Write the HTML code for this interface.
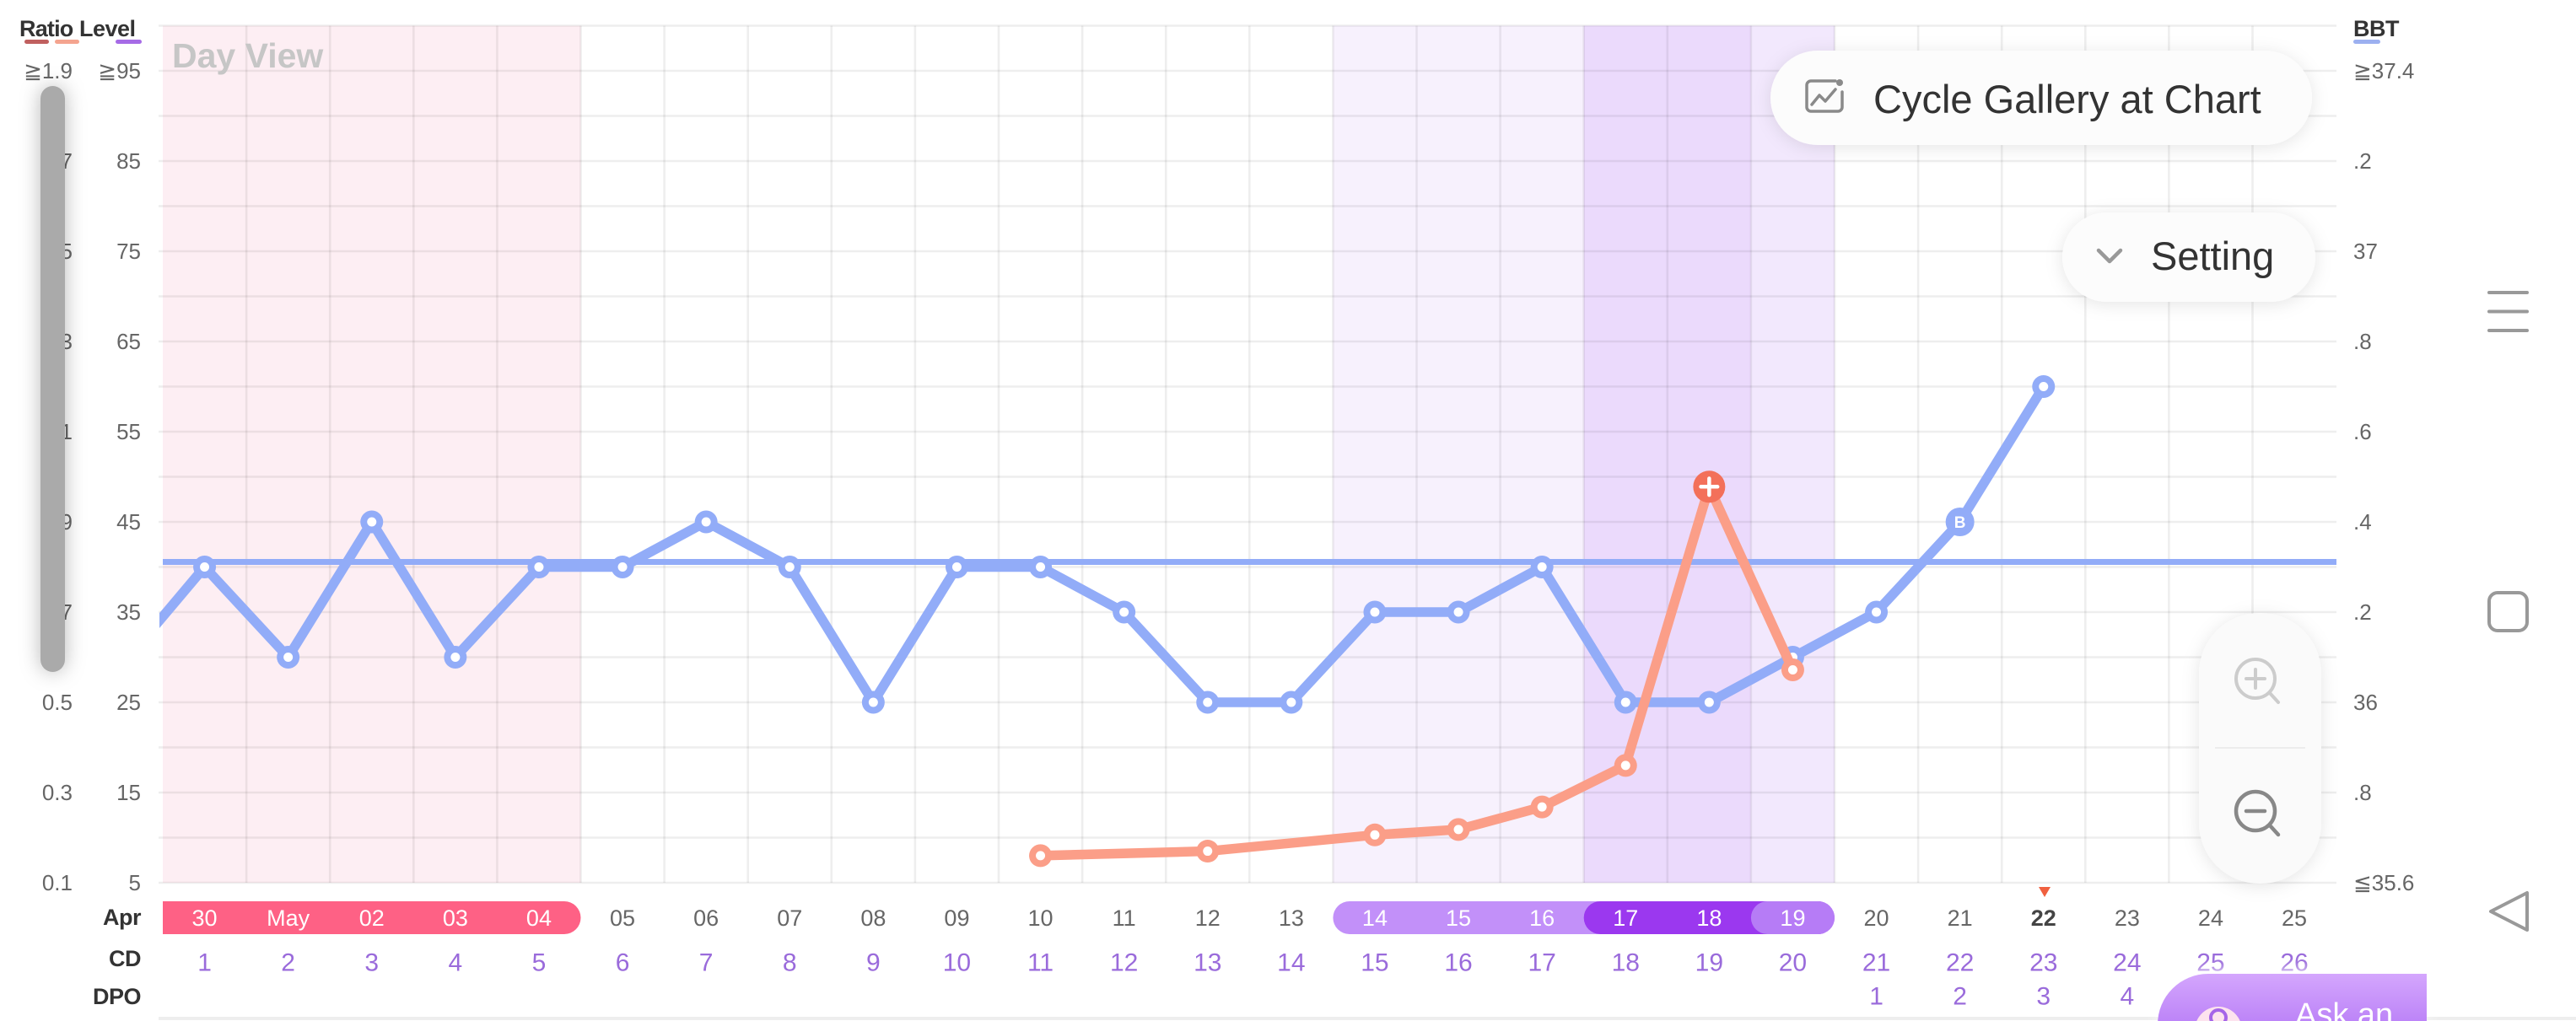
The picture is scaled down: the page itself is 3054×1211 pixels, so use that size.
<!DOCTYPE html>
<html><head><meta charset="utf-8"><style>
html,body{margin:0;padding:0;background:#fff;}
body{width:3054px;height:1211px;overflow:hidden;}
svg{display:block;font-family:"Liberation Sans","DejaVu Sans",sans-serif;}
</style></head><body>
<svg width="3054" height="1211" viewBox="0 0 3054 1211" xmlns="http://www.w3.org/2000/svg">
<defs>
<filter id="sh" x="-20%" y="-40%" width="140%" height="180%"><feDropShadow dx="0" dy="3" stdDeviation="10" flood-color="#000" flood-opacity="0.10"/></filter>
<filter id="sh2" x="-200%" y="-10%" width="500%" height="120%"><feDropShadow dx="0" dy="0" stdDeviation="12" flood-color="#000" flood-opacity="0.28"/></filter>
<filter id="glow" x="-30%" y="-60%" width="160%" height="220%"><feDropShadow dx="0" dy="-4" stdDeviation="8" flood-color="#fff" flood-opacity="0.9"/></filter>
<clipPath id="plot"><rect x="189" y="20" width="2581" height="1040"/></clipPath>
<linearGradient id="ask" x1="0" y1="0" x2="0" y2="1"><stop offset="0" stop-color="#d4a6fd"/><stop offset="1" stop-color="#bb82f7"/></linearGradient>
</defs>

<!-- shaded regions -->
<rect x="193" y="30.5" width="495.5" height="1016.5" fill="#fdeef3"/>
<rect x="1580.4" y="30.5" width="297.3" height="1016.5" fill="#f7f1fd"/>
<rect x="1877.7" y="30.5" width="198.2" height="1016.5" fill="#ebdafc"/>
<rect x="2075.9" y="30.5" width="99.1" height="1016.5" fill="#f2e8fd"/>

<!-- grid -->
<g stroke="#000" stroke-opacity="0.065" stroke-width="2.6">
<line x1="188" y1="30.5" x2="2770" y2="30.5"/><line x1="188" y1="84" x2="2770" y2="84"/><line x1="188" y1="137.5" x2="2770" y2="137.5"/><line x1="188" y1="191" x2="2770" y2="191"/><line x1="188" y1="244.5" x2="2770" y2="244.5"/><line x1="188" y1="298" x2="2770" y2="298"/><line x1="188" y1="351.5" x2="2770" y2="351.5"/><line x1="188" y1="405" x2="2770" y2="405"/><line x1="188" y1="458.5" x2="2770" y2="458.5"/><line x1="188" y1="512" x2="2770" y2="512"/><line x1="188" y1="565.5" x2="2770" y2="565.5"/><line x1="188" y1="619" x2="2770" y2="619"/><line x1="188" y1="672.5" x2="2770" y2="672.5"/><line x1="188" y1="726" x2="2770" y2="726"/><line x1="188" y1="779.5" x2="2770" y2="779.5"/><line x1="188" y1="833" x2="2770" y2="833"/><line x1="188" y1="886.5" x2="2770" y2="886.5"/><line x1="188" y1="940" x2="2770" y2="940"/><line x1="188" y1="993.5" x2="2770" y2="993.5"/><line x1="188" y1="1047" x2="2770" y2="1047"/>
<line x1="292.1" y1="30.5" x2="292.1" y2="1047"/><line x1="391.2" y1="30.5" x2="391.2" y2="1047"/><line x1="490.3" y1="30.5" x2="490.3" y2="1047"/><line x1="589.4" y1="30.5" x2="589.4" y2="1047"/><line x1="688.5" y1="30.5" x2="688.5" y2="1047"/><line x1="787.6" y1="30.5" x2="787.6" y2="1047"/><line x1="886.7" y1="30.5" x2="886.7" y2="1047"/><line x1="985.8" y1="30.5" x2="985.8" y2="1047"/><line x1="1084.9" y1="30.5" x2="1084.9" y2="1047"/><line x1="1184" y1="30.5" x2="1184" y2="1047"/><line x1="1283.1" y1="30.5" x2="1283.1" y2="1047"/><line x1="1382.2" y1="30.5" x2="1382.2" y2="1047"/><line x1="1481.3" y1="30.5" x2="1481.3" y2="1047"/><line x1="1580.4" y1="30.5" x2="1580.4" y2="1047"/><line x1="1679.5" y1="30.5" x2="1679.5" y2="1047"/><line x1="1778.6" y1="30.5" x2="1778.6" y2="1047"/><line x1="1877.7" y1="30.5" x2="1877.7" y2="1047"/><line x1="1976.8" y1="30.5" x2="1976.8" y2="1047"/><line x1="2075.9" y1="30.5" x2="2075.9" y2="1047"/><line x1="2175" y1="30.5" x2="2175" y2="1047"/><line x1="2274.1" y1="30.5" x2="2274.1" y2="1047"/><line x1="2373.2" y1="30.5" x2="2373.2" y2="1047"/><line x1="2472.3" y1="30.5" x2="2472.3" y2="1047"/><line x1="2571.4" y1="30.5" x2="2571.4" y2="1047"/><line x1="2670.5" y1="30.5" x2="2670.5" y2="1047"/>
</g>

<!-- bottom separator -->
<line x1="188" y1="1208" x2="3054" y2="1208" stroke="#eeeeee" stroke-width="4"/>

<!-- Day View -->
<text x="204" y="80" font-size="41" font-weight="bold" fill="#c6c6c6">Day View</text>

<!-- coverline -->
<line x1="193" y1="666.5" x2="2770" y2="666.5" stroke="#92acf8" stroke-width="7"/>

<!-- BBT series -->
<g clip-path="url(#plot)">
<polyline fill="none" stroke="#92acf8" stroke-width="11.5" stroke-linejoin="round" stroke-linecap="round" points="143.45,790.2 242.55,672.5 341.65,779.5 440.75,619 539.85,779.5 638.95,672.5 738.05,672.5 837.15,619 936.25,672.5 1035.35,833 1134.45,672.5 1233.55,672.5 1332.65,726 1431.75,833 1530.85,833 1629.95,726 1729.05,726 1828.15,672.5 1927.25,833 2026.35,833 2125.45,779.5 2224.55,726 2323.65,619 2422.75,458.5"/>
</g>
<g fill="#92acf8">
<circle cx="242.55" cy="672.5" r="13.5"/><circle cx="341.65" cy="779.5" r="13.5"/><circle cx="440.75" cy="619" r="13.5"/><circle cx="539.85" cy="779.5" r="13.5"/><circle cx="638.95" cy="672.5" r="13.5"/><circle cx="738.05" cy="672.5" r="13.5"/><circle cx="837.15" cy="619" r="13.5"/><circle cx="936.25" cy="672.5" r="13.5"/><circle cx="1035.35" cy="833" r="13.5"/><circle cx="1134.45" cy="672.5" r="13.5"/><circle cx="1233.55" cy="672.5" r="13.5"/><circle cx="1332.65" cy="726" r="13.5"/><circle cx="1431.75" cy="833" r="13.5"/><circle cx="1530.85" cy="833" r="13.5"/><circle cx="1629.95" cy="726" r="13.5"/><circle cx="1729.05" cy="726" r="13.5"/><circle cx="1828.15" cy="672.5" r="13.5"/><circle cx="1927.25" cy="833" r="13.5"/><circle cx="2026.35" cy="833" r="13.5"/><circle cx="2125.45" cy="779.5" r="13.5"/><circle cx="2224.55" cy="726" r="13.5"/><circle cx="2323.65" cy="619" r="17"/><circle cx="2422.75" cy="458.5" r="13.5"/>
</g>
<g fill="#fff">
<circle cx="242.55" cy="672.5" r="5.5"/><circle cx="341.65" cy="779.5" r="5.5"/><circle cx="440.75" cy="619" r="5.5"/><circle cx="539.85" cy="779.5" r="5.5"/><circle cx="638.95" cy="672.5" r="5.5"/><circle cx="738.05" cy="672.5" r="5.5"/><circle cx="837.15" cy="619" r="5.5"/><circle cx="936.25" cy="672.5" r="5.5"/><circle cx="1035.35" cy="833" r="5.5"/><circle cx="1134.45" cy="672.5" r="5.5"/><circle cx="1233.55" cy="672.5" r="5.5"/><circle cx="1332.65" cy="726" r="5.5"/><circle cx="1431.75" cy="833" r="5.5"/><circle cx="1530.85" cy="833" r="5.5"/><circle cx="1629.95" cy="726" r="5.5"/><circle cx="1729.05" cy="726" r="5.5"/><circle cx="1828.15" cy="672.5" r="5.5"/><circle cx="1927.25" cy="833" r="5.5"/><circle cx="2026.35" cy="833" r="5.5"/><circle cx="2125.45" cy="779.5" r="5.5"/><circle cx="2224.55" cy="726" r="5.5"/><circle cx="2422.75" cy="458.5" r="5.5"/>
</g>
<text x="2323.65" y="626" font-size="19" font-weight="bold" fill="#fff" text-anchor="middle">B</text>

<!-- Ratio series -->
<polyline fill="none" stroke="#fb9e88" stroke-width="11.5" stroke-linejoin="round" stroke-linecap="round" points="1233.55,1014.9 1431.75,1009.55 1629.95,990.3 1729.05,983.9 1828.15,957.1 1927.25,907.9 2026.35,577.3 2125.45,794.5"/>
<g fill="#fb9e88">
<circle cx="1233.55" cy="1014.9" r="13.5"/><circle cx="1431.75" cy="1009.55" r="13.5"/><circle cx="1629.95" cy="990.3" r="13.5"/><circle cx="1729.05" cy="983.9" r="13.5"/><circle cx="1828.15" cy="957.1" r="13.5"/><circle cx="1927.25" cy="907.9" r="13.5"/><circle cx="2125.45" cy="794.5" r="13.5"/>
</g>
<g fill="#fff">
<circle cx="1233.55" cy="1014.9" r="5.5"/><circle cx="1431.75" cy="1009.55" r="5.5"/><circle cx="1629.95" cy="990.3" r="5.5"/><circle cx="1729.05" cy="983.9" r="5.5"/><circle cx="1828.15" cy="957.1" r="5.5"/><circle cx="1927.25" cy="907.9" r="5.5"/><circle cx="2125.45" cy="794.5" r="5.5"/>
</g>
<circle cx="2026.35" cy="577.3" r="19" fill="#f3705a"/>
<path d="M2026.35 567.5v19.6M2016.5 577.3h19.7" stroke="#fff" stroke-width="4.5" stroke-linecap="round"/>

<!-- header legend -->
<text x="23" y="43" font-size="27" font-weight="bold" fill="#333" letter-spacing="-0.8">Ratio</text>
<text x="94" y="43" font-size="27" font-weight="bold" fill="#333" letter-spacing="-0.5">Level</text>
<rect x="29" y="47" width="29" height="5" rx="2.5" fill="#c0605f"/>
<rect x="65" y="47" width="29" height="5" rx="2.5" fill="#f4a48f"/>
<rect x="137" y="47" width="31" height="5" rx="2.5" fill="#a66be6"/>
<text x="2790" y="43" font-size="27" font-weight="bold" fill="#333" letter-spacing="-0.5">BBT</text>
<rect x="2790" y="47" width="32" height="5" rx="2.5" fill="#9cb0f0"/>

<!-- left axis labels -->
<g font-size="26" fill="#666" text-anchor="end" dominant-baseline="central">
<text x="86" y="84">≧1.9</text><text x="86" y="191">1.7</text><text x="86" y="298">1.5</text><text x="86" y="405">1.3</text><text x="86" y="512">1.1</text><text x="86" y="619">0.9</text><text x="86" y="726">0.7</text><text x="86" y="833">0.5</text><text x="86" y="940">0.3</text><text x="86" y="1047">0.1</text>
<text x="167" y="84">≧95</text><text x="167" y="191">85</text><text x="167" y="298">75</text><text x="167" y="405">65</text><text x="167" y="512">55</text><text x="167" y="619">45</text><text x="167" y="726">35</text><text x="167" y="833">25</text><text x="167" y="940">15</text><text x="167" y="1047">5</text>
</g>
<!-- right axis labels -->
<g font-size="26" fill="#666" dominant-baseline="central">
<text x="2790" y="84">≧37.4</text><text x="2790" y="191">.2</text><text x="2790" y="298">37</text><text x="2790" y="405">.8</text><text x="2790" y="512">.6</text><text x="2790" y="619">.4</text><text x="2790" y="726">.2</text><text x="2790" y="833">36</text><text x="2790" y="940">.8</text><text x="2790" y="1047">≦35.6</text>
</g>

<!-- scrollbar -->
<rect x="48" y="102" width="29" height="695" rx="14.5" fill="#aaaaaa" filter="url(#sh2)"/>

<!-- date pills -->
<path d="M193 1069h476a19.5 19.5 0 0 1 0 39h-476z" fill="#fe6185"/>
<rect x="1580.4" y="1069" width="420" height="39" rx="19.5" fill="#c290f9"/>
<rect x="1877.7" y="1069" width="297.3" height="39" rx="19.5" fill="#9b38ef"/>
<rect x="2075.9" y="1069" width="99.1" height="39" rx="19.5" fill="#b67cf6"/>
<path d="M2417 1052h14l-7 12z" fill="#f0603f"/>

<!-- row labels -->
<g font-size="27" font-weight="bold" fill="#333" text-anchor="end" dominant-baseline="central" letter-spacing="-0.5">
<text x="167" y="1088">Apr</text><text x="167" y="1137">CD</text><text x="167" y="1182">DPO</text>
</g>

<!-- dates -->
<g font-size="27" text-anchor="middle" dominant-baseline="central">
<g fill="#fff">
<text x="242.55" y="1089">30</text><text x="341.65" y="1089">May</text><text x="440.75" y="1089">02</text><text x="539.85" y="1089">03</text><text x="638.95" y="1089">04</text>
<text x="1629.95" y="1089">14</text><text x="1729.05" y="1089">15</text><text x="1828.15" y="1089">16</text><text x="1927.25" y="1089">17</text><text x="2026.35" y="1089">18</text><text x="2125.45" y="1089">19</text>
</g>
<g fill="#666">
<text x="738.05" y="1089">05</text><text x="837.15" y="1089">06</text><text x="936.25" y="1089">07</text><text x="1035.35" y="1089">08</text><text x="1134.45" y="1089">09</text><text x="1233.55" y="1089">10</text><text x="1332.65" y="1089">11</text><text x="1431.75" y="1089">12</text><text x="1530.85" y="1089">13</text>
<text x="2224.55" y="1089">20</text><text x="2323.65" y="1089">21</text><text x="2521.85" y="1089">23</text><text x="2620.95" y="1089">24</text><text x="2720.05" y="1089">25</text>
</g>
<text x="2422.75" y="1089" fill="#444" font-weight="bold">22</text>
</g>

<!-- CD -->
<g font-size="30" fill="#9a6bdb" text-anchor="middle" dominant-baseline="central">
<text x="242.55" y="1142">1</text><text x="341.65" y="1142">2</text><text x="440.75" y="1142">3</text><text x="539.85" y="1142">4</text><text x="638.95" y="1142">5</text><text x="738.05" y="1142">6</text><text x="837.15" y="1142">7</text><text x="936.25" y="1142">8</text><text x="1035.35" y="1142">9</text><text x="1134.45" y="1142">10</text><text x="1233.55" y="1142">11</text><text x="1332.65" y="1142">12</text><text x="1431.75" y="1142">13</text><text x="1530.85" y="1142">14</text><text x="1629.95" y="1142">15</text><text x="1729.05" y="1142">16</text><text x="1828.15" y="1142">17</text><text x="1927.25" y="1142">18</text><text x="2026.35" y="1142">19</text><text x="2125.45" y="1142">20</text><text x="2224.55" y="1142">21</text><text x="2323.65" y="1142">22</text><text x="2422.75" y="1142">23</text><text x="2521.85" y="1142">24</text><text x="2620.95" y="1142">25</text><text x="2720.05" y="1142">26</text>
<text x="2224.55" y="1182">1</text><text x="2323.65" y="1182">2</text><text x="2422.75" y="1182">3</text><text x="2521.85" y="1182">4</text><text x="2620.95" y="1182">5</text><text x="2720.05" y="1182">6</text>
</g>

<!-- Cycle Gallery button -->
<rect x="2099" y="60" width="642" height="112" rx="56" fill="#fcfcfc" filter="url(#sh)"/>
<g fill="none" stroke="#8a8a8a" stroke-width="3.5" stroke-linecap="round" stroke-linejoin="round">
<path d="M2176 96h-29a5 5 0 0 0-5 5v26a5 5 0 0 0 5 5h32a5 5 0 0 0 5-5v-18"/>
<path d="M2148 124l9-11 7 7 12-14"/>
</g>
<circle cx="2181" cy="98" r="4" fill="#8a8a8a"/>
<text x="2221" y="134" font-size="47" fill="#333">Cycle Gallery at Chart</text>

<!-- Setting button -->
<rect x="2445" y="252" width="300" height="106" rx="53" fill="#fcfcfc" filter="url(#sh)"/>
<path d="M2488 297l13 13 13-13" fill="none" stroke="#999" stroke-width="4.5" stroke-linecap="round" stroke-linejoin="round"/>
<text x="2550" y="320" font-size="47" fill="#333">Setting</text>

<!-- zoom panel -->
<rect x="2607" y="727" width="145" height="321" rx="72" fill="#fafafa" filter="url(#sh)"/>
<line x1="2626" y1="887" x2="2733" y2="887" stroke="#ececec" stroke-width="2"/>
<g fill="none" stroke="#cccccc" stroke-width="4" stroke-linecap="round">
<circle cx="2674" cy="805" r="23"/><path d="M2674 794v22M2663 805h22M2691 822l10 11"/>
</g>
<g fill="none" stroke="#888" stroke-width="4.5" stroke-linecap="round">
<circle cx="2674" cy="962" r="23"/><path d="M2663 962h22M2691 979l10 11"/>
</g>

<!-- android nav -->
<g fill="none" stroke="#999" stroke-width="4" stroke-linecap="round" stroke-linejoin="round">
<path d="M2951 347h45M2951 369.5h45M2951 392h45"/>
<rect x="2951" y="703" width="45" height="45" rx="10"/>
<path d="M2996 1059v44l-43-22z"/>
</g>

<!-- Ask button -->
<path d="M2558 1215a60 60 0 0 1 60-60h259v60z" fill="url(#ask)" filter="url(#glow)"/>
<circle cx="2630" cy="1222" r="28" fill="#fde3ee"/>
<circle cx="2630" cy="1207" r="9" fill="none" stroke="#a665e8" stroke-width="4"/>
<text x="2721" y="1216" font-size="38" fill="#fff">Ask an</text>
</svg>
</body></html>
